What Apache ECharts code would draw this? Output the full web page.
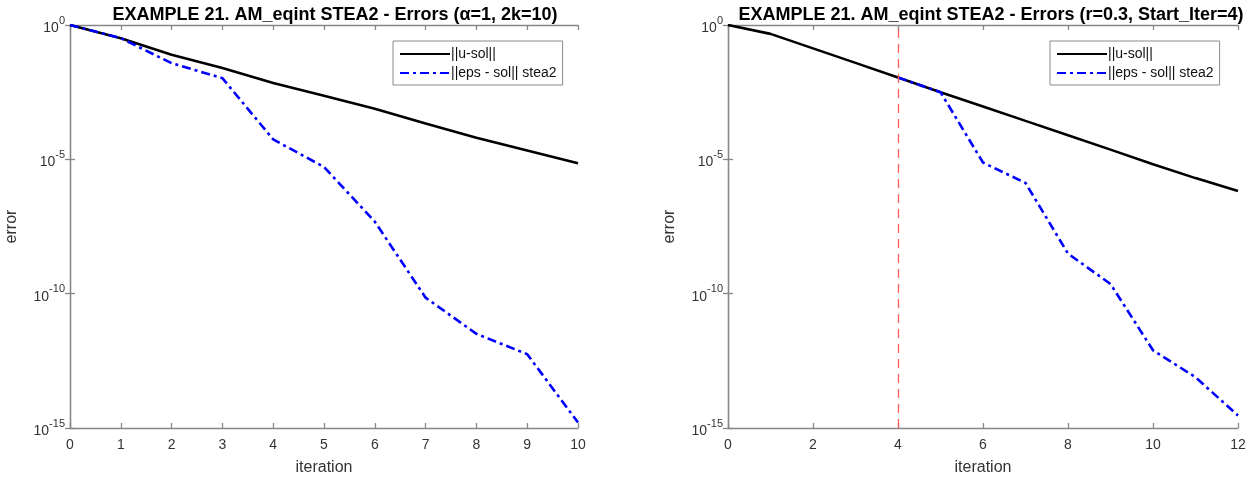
<!DOCTYPE html>
<html>
<head>
<meta charset="utf-8">
<script src="https://cdn.jsdelivr.net/npm/echarts@6/dist/echarts.min.js"></script>
<style>
  html, body { margin: 0; padding: 0; background: #fff; }
  #chart { width: 1260px; height: 485px; }
</style>
</head>
<body>
<div id="chart"></div>
<script>
// Left panel: alpha=1, 2k=10
const iterLeft = [0, 1, 2, 3, 4, 5, 6, 7, 8, 9, 10];
const usolLeft = [1, 0.324, 0.0776, 0.0251, 6.9e-3, 2.34e-3, 7.6e-4, 2.14e-4, 6.3e-5, 2.14e-5, 7.1e-6];
const epsLeft  = [1, 0.324, 0.038, 0.0105, 5.5e-5, 5.2e-6, 4.8e-8, 7.1e-11, 3.2e-12, 5.6e-13, 1.6e-15];

// Right panel: r=0.3, Start_Iter=4
const iterRight = [0, 1, 2, 3, 4, 5, 6, 7, 8, 9, 10, 11, 12];
const usolRight = [1, 0.468, 0.135, 0.0389, 0.0112, 3.16e-3, 9.3e-4, 2.7e-4, 7.9e-5, 2.3e-5, 6.6e-6, 2.0e-6, 6.6e-7];
const epsIterRight = [4, 5, 6, 7, 8, 9, 10, 11, 12];
const epsRight = [0.0112, 3.16e-3, 7.6e-6, 1.32e-6, 3.1e-9, 2.3e-10, 7.8e-13, 7.8e-14, 2.9e-15];
const startIter = 4;

const titleLeft = 'EXAMPLE 21. AM_eqint STEA2 - Errors (\u03b1=1, 2k=10)';
const titleRight = 'EXAMPLE 21. AM_eqint STEA2 - Errors (r=0.3, Start_Iter=4)';
const nameUsol = '||u-sol||';
const nameEps = '||eps - sol|| stea2';

const pairs = (xs, ys) => xs.map((x, i) => [x, ys[i]]);

const FONT = 'Liberation Sans, Arial, Helvetica, sans-serif';
const AX = '#868686';
const TXT = '#333';

function expLabel(v) {
  const e = Math.round(Math.log10(v));
  return '{b|10}{s|' + e + '}';
}

function xAxes(grid, max, step) {
  const base = {
    gridIndex: grid, type: 'value', min: 0, max: max, interval: step,
    axisLine: { show: true, lineStyle: { color: AX, width: 1.3 } },
    axisTick: { show: true, inside: true, length: 5, lineStyle: { color: AX, width: 1.3 } },
    splitLine: { show: false }
  };
  return [
    Object.assign({}, base, {
      position: 'bottom',
      name: 'iteration', nameLocation: 'middle', nameGap: 32,
      nameTextStyle: { fontFamily: FONT, fontSize: 16, color: TXT },
      axisLabel: { fontFamily: FONT, fontSize: 14, color: TXT, margin: 10 }
    }),
    Object.assign({}, base, { position: 'top', axisLabel: { show: false } })
  ];
}

function yAxes(grid) {
  const base = {
    gridIndex: grid, type: 'log', logBase: 10, min: 1e-15, max: 1, interval: 5,
    axisLine: { show: true, lineStyle: { color: AX, width: 1.3 } },
    axisTick: { show: true, inside: true, length: 5, lineStyle: { color: AX, width: 1.3 } },
    minorTick: { show: false },
    splitLine: { show: false }
  };
  return [
    Object.assign({}, base, {
      position: 'left',
      name: 'error', nameLocation: 'middle', nameGap: 50,
      nameTextStyle: { fontFamily: FONT, fontSize: 16, color: TXT },
      axisLabel: {
        margin: 5, formatter: expLabel,
        rich: {
          b: { fontFamily: FONT, fontSize: 14, color: TXT, lineHeight: 20, verticalAlign: 'bottom' },
          s: { fontFamily: FONT, fontSize: 11, color: TXT, verticalAlign: 'top' }
        }
      }
    }),
    Object.assign({}, base, { position: 'right', axisLabel: { show: false } })
  ];
}

function legend(left) {
  return {
    left: left, top: 41, orient: 'vertical',
    data: [nameUsol, nameEps],
    itemWidth: 50, itemHeight: 14, itemGap: 5,
    padding: [6, 6, 5, 6],
    itemStyle: { opacity: 0 },
    borderColor: '#8a8a8a', borderWidth: 1, backgroundColor: '#fff',
    textStyle: { fontFamily: FONT, fontSize: 14, color: '#111', padding: [0, 0, 0, -4] },
    selectedMode: false
  };
}

const usolStyle = { color: '#000', width: 2.6, type: 'solid' };
const epsStyle = { color: '#0000ff', width: 2.6, type: [9, 4, 3, 4] };

const option = {
  backgroundColor: '#fff',
  animation: false,
  title: [
    { text: titleLeft, left: 330, top: 1, textAlign: 'center',
      textStyle: { fontFamily: FONT, fontSize: 18, fontWeight: 'bold', color: '#000' } },
    { text: titleRight, left: 986, top: 1, textAlign: 'center',
      textStyle: { fontFamily: FONT, fontSize: 18, fontWeight: 'bold', color: '#000' } }
  ],
  legend: [legend(393), legend(1050)],
  grid: [
    { left: 70, right: 682, top: 25, bottom: 57 },
    { left: 728, right: 22, top: 25, bottom: 57 }
  ],
  xAxis: [].concat(xAxes(0, 10, 1), xAxes(1, 12, 2)),
  yAxis: [].concat(yAxes(0), yAxes(1)),
  series: [
    { name: nameUsol, type: 'line', xAxisIndex: 0, yAxisIndex: 0, symbol: 'none',
      data: pairs(iterLeft, usolLeft), lineStyle: usolStyle, itemStyle: { color: '#000' }, z: 2 },
    { name: nameEps, type: 'line', xAxisIndex: 0, yAxisIndex: 0, symbol: 'none',
      data: pairs(iterLeft, epsLeft), lineStyle: epsStyle, itemStyle: { color: '#0000ff' }, z: 3 },
    { name: nameUsol, type: 'line', xAxisIndex: 2, yAxisIndex: 2, symbol: 'none',
      data: pairs(iterRight, usolRight), lineStyle: usolStyle, itemStyle: { color: '#000' }, z: 2,
      markLine: {
        silent: true, symbol: 'none', label: { show: false },
        lineStyle: { color: '#ff5c5c', width: 1.3, type: [9, 6] },
        data: [{ xAxis: startIter }]
      } },
    { name: nameEps, type: 'line', xAxisIndex: 2, yAxisIndex: 2, symbol: 'none',
      data: pairs(epsIterRight, epsRight), lineStyle: epsStyle, itemStyle: { color: '#0000ff' }, z: 3 }
  ]
};

echarts.init(document.getElementById('chart')).setOption(option);
</script>
</body>
</html>
